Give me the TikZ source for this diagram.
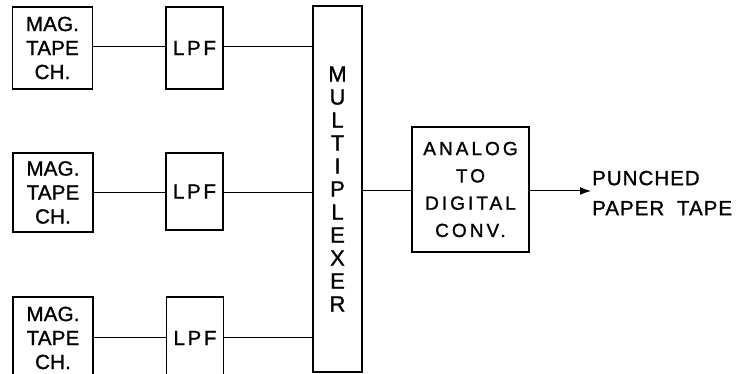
\documentclass[tikz,border=0pt]{standalone}
\usepackage{fontspec}
\setmainfont[FakeBold=1.2]{Liberation Sans}
\newfontfamily\lfa[LetterSpace=1,FakeBold=1.2]{Liberation Sans}
\newfontfamily\lfb[LetterSpace=13,FakeBold=1.2]{Liberation Sans}
\newfontfamily\lfc[LetterSpace=16,FakeBold=1.2]{Liberation Sans}
\newfontfamily\lfd[LetterSpace=5,FakeBold=1.2]{Liberation Sans}
\usetikzlibrary{arrows.meta}
\begin{document}
\begin{tikzpicture}[x=1pt,y=-1pt,
  blk/.style={draw, line width=1.4pt, inner sep=0pt, align=center, anchor=center},
  magbox/.style={blk, minimum width=80pt, minimum height=80pt,
    font=\lfa\fontsize{20.5}{24}\selectfont},
  lpfbox/.style={blk, minimum width=57pt, minimum height=80pt,
    font=\lfb\fontsize{20.5}{24}\selectfont},
  wire/.style={line width=1pt},
  ]
\useasboundingbox (0,0) rectangle (740,374);
\begin{scope}
\clip (0,0) rectangle (740,374);
\node[magbox, minimum height=82pt] (mag1) at (52.5,48) {MAG.\\TAPE\\CH.};
\node[lpfbox, minimum height=82pt] (lpf1) at (194.5,48) {LPF};
\node[magbox, minimum height=79pt] (mag2) at (53,192.5) {MAG.\\TAPE\\CH.};
\node[lpfbox, minimum height=77pt] (lpf2) at (194.5,191.5) {LPF};
\node[magbox, minimum height=82pt] (mag3) at (53,338) {MAG.\\TAPE\\CH.};
\node[lpfbox, minimum height=82pt] (lpf3) at (195,338) {LPF};
\node[blk, minimum width=49pt, minimum height=366pt,
  font=\fontsize{22}{23}\selectfont] (mux) at (337.5,189)
  {M\\U\\L\\T\\I\\P\\L\\E\\X\\E\\R};
\node[blk, minimum width=117pt, minimum height=125pt,
  font=\lfc\fontsize{19}{27.3}\selectfont] (ad) at (470.5,189.5)
  {ANALOG\\TO\\DIGITAL\\CONV.};
\node[anchor=west, inner sep=0pt, align=left,
  font=\lfd\fontsize{20.5}{30}\selectfont] (out) at (592,193)
  {PUNCHED\\PAPER\hspace{6pt} TAPE};
\coordinate (tip) at (591,191);

\draw[wire] (mag1.east |- 0,47) -- (lpf1.west |- 0,47);
\draw[wire] (lpf1.east |- 0,47) -- (mux.west |- 0,47);
\draw[wire] (mag2.east |- 0,193) -- (lpf2.west |- 0,193);
\draw[wire] (lpf2.east |- 0,193) -- (mux.west |- 0,193);
\draw[wire] (mag3.east |- 0,338) -- (lpf3.west |- 0,338);
\draw[wire] (lpf3.east |- 0,338) -- (mux.west |- 0,338);
\draw[wire] (mux.east |- 0,191) -- (ad.west |- 0,191);
\draw[wire, -{Latex[length=11pt,width=8pt]}] (ad.east |- tip) -- (tip);
\end{scope}
\end{tikzpicture}
\end{document}
